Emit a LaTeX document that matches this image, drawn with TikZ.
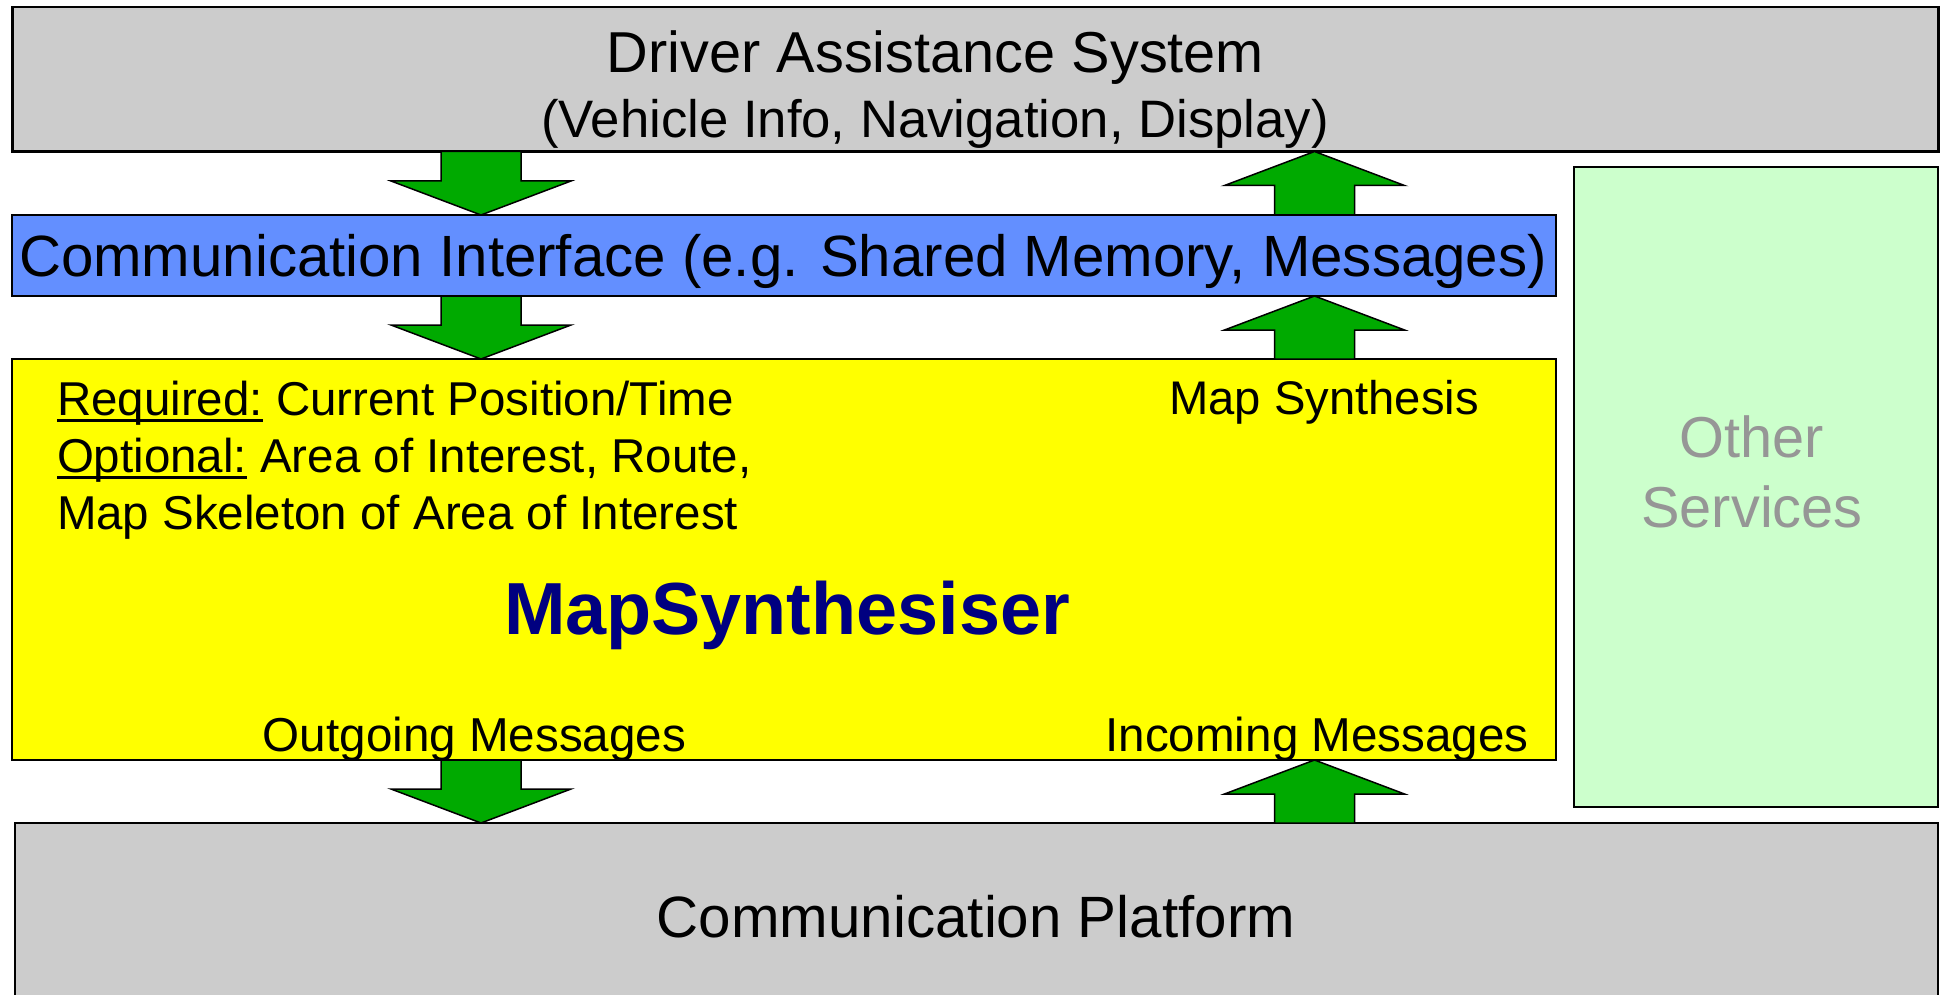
\documentclass[tikz,border=0pt]{standalone}
\usepackage{fontspec}
\setmainfont{Liberation Sans}
\usetikzlibrary{calc}

\definecolor{panelgray}{RGB}{204,204,204}
\definecolor{ifaceblue}{RGB}{99,143,255}
\definecolor{synthyellow}{RGB}{255,255,0}
\definecolor{servgreen}{RGB}{204,255,204}
\definecolor{flowgreen}{RGB}{0,170,0}
\definecolor{titlenavy}{RGB}{0,0,128}
\definecolor{mutedgray}{RGB}{150,150,150}

% font size given in px-sized points
\newcommand\fsz[1]{\fontsize{#1pt}{#1pt}\selectfont}
% underline drawn at a fixed offset below the baseline
\newcommand\ulword[1]{\setbox0=\hbox{#1}\rlap{\rule[-0.15em]{\wd0}{0.065em}}\box0\relax}

% block arrows between two points (shaft half-width 40, head half-width 90, head length 34)
\newcommand\fatdown[2]{%
  \draw[fatarrow] let \p1=(#1), \p2=(#2) in
    (\x1-40pt,\y1) -- (\x1+40pt,\y1) -- (\x1+40pt,\y2+34pt) -- (\x1+90pt,\y2+34pt)
    -- (\x1,\y2) -- (\x1-90pt,\y2+34pt) -- (\x1-40pt,\y2+34pt) -- cycle;}
\newcommand\fatup[2]{%
  \draw[fatarrow] let \p1=(#1), \p2=(#2) in
    (\x1-40pt,\y1) -- (\x1+40pt,\y1) -- (\x1+40pt,\y2-34pt) -- (\x1+90pt,\y2-34pt)
    -- (\x1,\y2) -- (\x1-90pt,\y2-34pt) -- (\x1-40pt,\y2-34pt) -- cycle;}

\begin{document}
\begin{tikzpicture}[x=1pt,y=-1pt,
  box/.style={draw=black,line width=2.5pt,rectangle,inner sep=0pt,outer sep=0pt},
  fatarrow/.style={draw=black,line width=1.5pt,fill=flowgreen,line join=miter},
  lbl/.style={inner sep=0pt,outer sep=0pt,anchor=base},
  lblw/.style={inner sep=0pt,outer sep=0pt,anchor=base west}]

\useasboundingbox (0,0) rectangle (1946,995);
\clip (0,0) rectangle (1946,995);

% layers
\node[box,fill=panelgray,minimum width=1926pt,minimum height=144.5pt] (das) at (975.5,79.25) {};
\node[box,fill=ifaceblue,line width=2pt,minimum width=1544pt,minimum height=81pt] (iface) at (784,255.5) {};
\node[box,fill=synthyellow,minimum width=1544pt,minimum height=401pt] (synth) at (784,559.5) {};
\node[box,fill=servgreen,minimum width=364pt,minimum height=640pt] (other) at (1756,487) {};
\node[box,fill=panelgray,minimum width=1923pt,minimum height=187pt] (platform) at (976.5,916.5) {};

% data flow
\coordinate (lx) at (481,0);
\coordinate (rx) at (1314.5,0);
\fatdown{das.south -| lx}{iface.north -| lx}
\fatdown{iface.south -| lx}{synth.north -| lx}
\fatdown{synth.south -| lx}{platform.north -| lx}
\fatup{iface.north -| rx}{das.south -| rx}
\fatup{synth.north -| rx}{iface.south -| rx}
\fatup{platform.north -| rx}{synth.south -| rx}

% texts
\node[lbl] (dasT1) at (935.5,73) {\fsz{57.7}Driver Assistance System};
\node[lbl] (dasT2) at (935,138) {\fsz{52.7}(Vehicle Info, Navigation, Display)};
\node[lbl] (ifaceT) at (783,276) {\fsz{58.2}Communication Interface (e.g. Shared Memory, Messages)};

\node[lblw] (req) at (57,415) {\fsz{47.5}\ulword{Required:} Current Position/Time};
\node[lblw] (opt) at (57,472) {\fsz{47.5}\ulword{Optional:} Area of Interest, Route,};
\node[lblw] (skel) at (57,529) {\fsz{47.5}Map Skeleton of Area of Interest};
\node[lbl] (mapsyn) at (1324,414) {\fsz{47.2}Map Synthesis};
\node[lbl,text=titlenavy] (title) at (787,634) {\fsz{73.8}\bfseries MapSynthesiser};
\node[lbl] (outmsg) at (474.5,751) {\fsz{47.6}Outgoing Messages};
\node[lbl] (inmsg) at (1317,751) {\fsz{47.6}Incoming Messages};

\node[lbl,text=mutedgray] (otherT1) at (1752,457) {\fsz{57.7}Other};
\node[lbl,text=mutedgray] (otherT2) at (1752,527) {\fsz{57.7}Services};

\node[lbl] (platT) at (976,937) {\fsz{58.3}Communication Platform};
\end{tikzpicture}
\end{document}
